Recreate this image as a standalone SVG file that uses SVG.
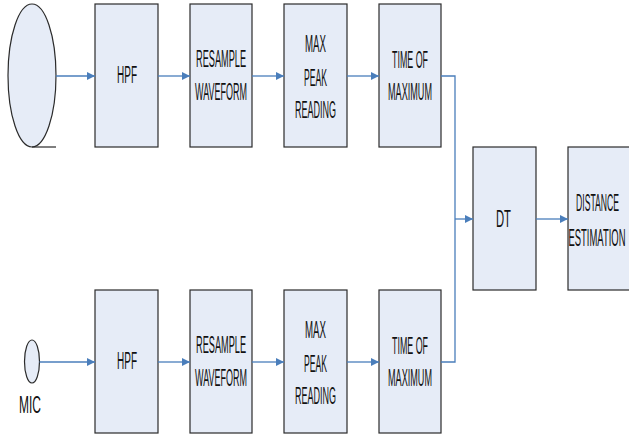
<svg xmlns="http://www.w3.org/2000/svg" width="629" height="439" viewBox="0 0 629 439">
<style>
.box{fill:#E6ECF7;stroke:#2b2b2b;stroke-width:1.2}
.t{font-family:"Liberation Sans",Arial,sans-serif;font-size:23px;fill:#111;text-anchor:middle}
.c{fill:none;stroke:#4A7EBB;stroke-width:1.3}
</style>
<defs>
<marker id="ah" viewBox="0 0 10 10" refX="10" refY="5" markerWidth="8" markerHeight="9" markerUnits="userSpaceOnUse" orient="auto">
<path d="M0,0 L10,5 L0,10 z" fill="#4A7EBB"/>
</marker>
</defs>
<rect width="629" height="439" fill="#fff"/>
<g id="mic1">
<ellipse class="box" cx="32" cy="75.5" rx="24" ry="71.5"/>
<line x1="32" y1="147" x2="56" y2="147" stroke="#2b2b2b" stroke-width="1.2"/>
</g>
<g id="hpf1"><rect class="box" x="95" y="4" width="63" height="143"/><text class="t" x="127" y="83" textLength="20" lengthAdjust="spacingAndGlyphs">HPF</text></g>
<g id="res1"><rect class="box" x="190" y="4" width="62" height="143"/><text class="t" x="221" y="67" textLength="50" lengthAdjust="spacingAndGlyphs">RESAMPLE</text><text class="t" x="221" y="100" textLength="52" lengthAdjust="spacingAndGlyphs">WAVEFORM</text></g>
<g id="max1"><rect class="box" x="284" y="4" width="63" height="143"/><text class="t" x="315.5" y="52" textLength="21" lengthAdjust="spacingAndGlyphs">MAX</text><text class="t" x="315.5" y="86" textLength="23" lengthAdjust="spacingAndGlyphs">PEAK</text><text class="t" x="315.5" y="118" textLength="41" lengthAdjust="spacingAndGlyphs">READING</text></g>
<g id="tom1"><rect class="box" x="379" y="4" width="62" height="143"/><text class="t" x="410" y="68" textLength="36" lengthAdjust="spacingAndGlyphs">TIME OF</text><text class="t" x="410" y="100" textLength="44" lengthAdjust="spacingAndGlyphs">MAXIMUM</text></g>
<g id="mic2"><ellipse class="box" cx="32" cy="361.5" rx="7.5" ry="21.5"/><text class="t" x="30" y="413" textLength="22" lengthAdjust="spacingAndGlyphs">MIC</text></g>
<g id="hpf2"><rect class="box" x="95" y="290" width="63" height="143"/><text class="t" x="127" y="369" textLength="20" lengthAdjust="spacingAndGlyphs">HPF</text></g>
<g id="res2"><rect class="box" x="190" y="290" width="62" height="143"/><text class="t" x="221" y="353" textLength="50" lengthAdjust="spacingAndGlyphs">RESAMPLE</text><text class="t" x="221" y="386" textLength="52" lengthAdjust="spacingAndGlyphs">WAVEFORM</text></g>
<g id="max2"><rect class="box" x="284" y="290" width="63" height="143"/><text class="t" x="315.5" y="338" textLength="21" lengthAdjust="spacingAndGlyphs">MAX</text><text class="t" x="315.5" y="372" textLength="23" lengthAdjust="spacingAndGlyphs">PEAK</text><text class="t" x="315.5" y="404" textLength="41" lengthAdjust="spacingAndGlyphs">READING</text></g>
<g id="tom2"><rect class="box" x="379" y="290" width="62" height="143"/><text class="t" x="410" y="354" textLength="36" lengthAdjust="spacingAndGlyphs">TIME OF</text><text class="t" x="410" y="386" textLength="44" lengthAdjust="spacingAndGlyphs">MAXIMUM</text></g>
<g id="dt"><rect class="box" x="473" y="147" width="63" height="143"/><text class="t" x="503.5" y="227" textLength="15" lengthAdjust="spacingAndGlyphs">DT</text></g>
<g id="dist"><rect class="box" x="568" y="147" width="64" height="143"/><text class="t" x="597.5" y="211" textLength="43" lengthAdjust="spacingAndGlyphs">DISTANCE</text><text class="t" x="597" y="246" textLength="57" lengthAdjust="spacingAndGlyphs">ESTIMATION</text></g>
<g id="connectors">
<line class="c" x1="56" y1="76" x2="95" y2="76" marker-end="url(#ah)"/>
<line class="c" x1="158" y1="76" x2="190" y2="76" marker-end="url(#ah)"/>
<line class="c" x1="252" y1="76" x2="284" y2="76" marker-end="url(#ah)"/>
<line class="c" x1="347" y1="76" x2="379" y2="76" marker-end="url(#ah)"/>
<line class="c" x1="39.5" y1="362" x2="95" y2="362" marker-end="url(#ah)"/>
<line class="c" x1="158" y1="362" x2="190" y2="362" marker-end="url(#ah)"/>
<line class="c" x1="252" y1="362" x2="284" y2="362" marker-end="url(#ah)"/>
<line class="c" x1="347" y1="362" x2="379" y2="362" marker-end="url(#ah)"/>
<polyline class="c" points="441,76 455,76 455,362 441,362"/>
<line class="c" x1="455" y1="219" x2="473" y2="219" marker-end="url(#ah)"/>
<line class="c" x1="536" y1="219" x2="568" y2="219" marker-end="url(#ah)"/>
</g>
</svg>
